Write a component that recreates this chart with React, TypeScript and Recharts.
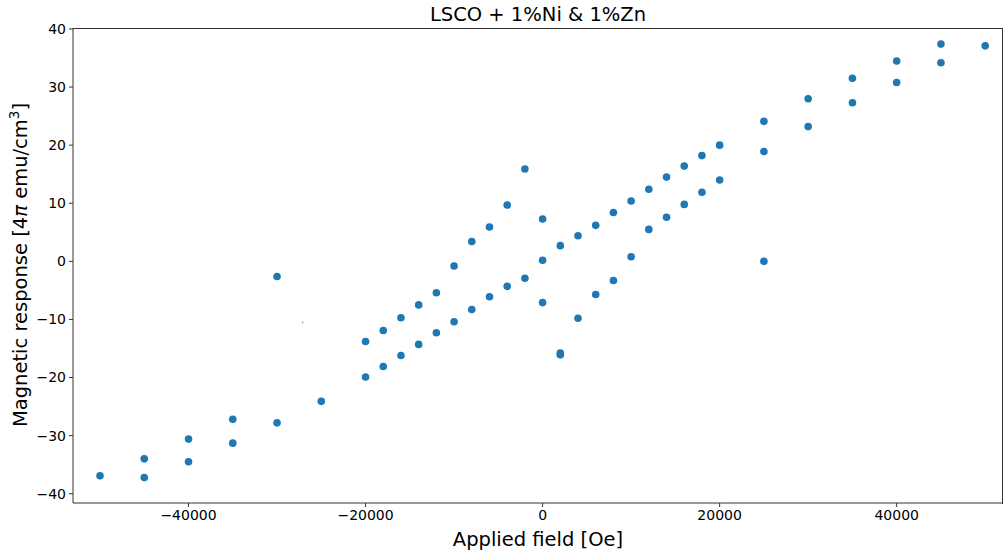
import React from 'react';
import { ScatterChart, Scatter, XAxis, YAxis } from 'recharts';

// applied field [Oe] and magnetic response
const fieldValues = [
    -50000, -45000, -45000, -40000, -40000, -35000, -35000, -30000, -30000, -25000,
    -20000, -20000, -18000, -18000, -16000, -16000, -14000, -14000, -12000, -12000,
    -10000, -10000, -8000, -8000, -6000, -6000, -4000, -4000, -2000, -2000,
    0, 0, 0, 2000, 2000, 2000, 4000, 4000, 6000, 6000,
    8000, 8000, 10000, 10000, 12000, 12000, 14000, 14000, 16000, 16000,
    18000, 18000, 20000, 20000, 25000, 25000, 25000, 30000, 30000, 35000,
    35000, 40000, 40000, 45000, 45000, 50000,
];
const responseValues = [
    -36.9, -34.0, -37.2, -30.6, -34.5, -27.2, -31.3, -2.6, -27.8, -24.1,
    -13.8, -19.9, -11.9, -18.1, -9.7, -16.2, -7.5, -14.3, -5.4, -12.3,
    -0.8, -10.4, 3.4, -8.3, 5.9, -6.1, 9.7, -4.3, 15.9, -2.9,
    7.3, 0.2, -7.1, 2.7, -15.8, -16.1, 4.4, -9.8, 6.2, -5.7,
    8.4, -3.3, 10.4, 0.8, 12.4, 5.5, 14.5, 7.6, 16.4, 9.8,
    18.2, 11.9, 20.0, 14.0, 24.1, 18.9, 0.0, 28.0, 23.2, 31.5,
    27.3, 34.5, 30.8, 37.4, 34.2, 37.1,
];
// a single tiny stray point
const strayField = [-27100];
const strayResponse = [-10.5];

const xTicks = [-40000, -20000, 0, 20000, 40000];
const yTicks = [-40, -30, -20, -10, 0, 10, 20, 30, 40];

const points = fieldValues.map((x, i) => ({ x, y: responseValues[i] }));
const strayPoints = strayField.map((x, i) => ({ x, y: strayResponse[i] }));

const FONT = '"DejaVu Sans", sans-serif';
const AXIS_COLOR = '#333';
const fmt = (v: number) => String(v).replace('-', '\u2212');

const YLabel = () => (
    <text
        x={0}
        y={0}
        transform="translate(27, 265) rotate(-90)"
        textAnchor="middle"
        fontFamily={FONT}
        fontSize={19.5}
        fill="#000"
    >
        Magnetic response [4<tspan fontStyle="italic">π</tspan> emu/cm<tspan dy={-8} fontSize={13.5}>3</tspan>
        <tspan dy={8}>]</tspan>
    </text>
);

const Dot = (props: any) => <circle cx={props.cx} cy={props.cy} r={3.8} fill="#1f77b4" />;
const TinyDot = (props: any) => <circle cx={props.cx} cy={props.cy} r={0.6} fill="#444" />;

const App: React.FC = () => {
    return (
        <div style={{ position: 'absolute', left: 0, top: 0, width: 1005, height: 550, background: '#fff' }}>
            <div
                style={{
                    position: 'absolute',
                    left: 73,
                    width: 930,
                    top: 4,
                    textAlign: 'center',
                    fontFamily: FONT,
                    fontSize: 19.5,
                    lineHeight: '22px',
                    color: '#000',
                }}
            >
                LSCO + 1%Ni &amp; 1%Zn
            </div>
            <ScatterChart width={1005} height={550} margin={{ top: 28, right: 2, bottom: 0, left: 0 }}>
                <XAxis
                    type="number"
                    dataKey="x"
                    domain={[-53050, 52010]}
                    ticks={xTicks}
                    allowDataOverflow
                    height={47}
                    tickSize={4}
                    tickMargin={3}
                    tickFormatter={fmt}
                    stroke={AXIS_COLOR}
                    tick={{ fill: '#000', fontSize: 14, fontFamily: FONT }}
                    label={{ value: 'Applied field [Oe]', position: 'insideBottom', offset: 4, fill: '#000', fontSize: 19.5, fontFamily: FONT }}
                />
                <YAxis
                    type="number"
                    dataKey="y"
                    domain={[-41.6, 40.17]}
                    ticks={yTicks}
                    allowDataOverflow
                    width={73}
                    tickSize={4}
                    tickMargin={3}
                    tickFormatter={fmt}
                    stroke={AXIS_COLOR}
                    tick={{ fill: '#000', fontSize: 14, fontFamily: FONT }}
                    label={<YLabel />}
                />
                <Scatter data={points} shape={Dot} isAnimationActive={false} />
                <Scatter data={strayPoints} shape={TinyDot} isAnimationActive={false} />
            </ScatterChart>
            {/* top and right spines */}
            <div
                style={{
                    position: 'absolute',
                    left: 73,
                    top: 28,
                    width: 929,
                    height: 475,
                    borderTop: `1px solid ${AXIS_COLOR}`,
                    borderRight: `1px solid ${AXIS_COLOR}`,
                    pointerEvents: 'none',
                }}
            />
        </div>
    );
};

export default App;
